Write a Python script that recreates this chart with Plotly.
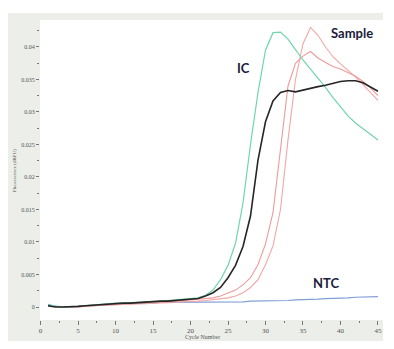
import plotly.graph_objects as go

cycles = list(range(1, 46))

ic_green = [0.0003, 0.0001, 0.0000, 0.0000, 0.0001, 0.0002, 0.0004, 0.0004, 0.0005, 0.0006,
            0.0006, 0.0007, 0.0007, 0.0008, 0.0008, 0.0009, 0.0009, 0.0010, 0.0011, 0.0012,
            0.0014, 0.0018, 0.0026, 0.0042, 0.0064, 0.0098, 0.0160, 0.0250, 0.0330, 0.0395,
            0.0422, 0.0423, 0.0412, 0.0396, 0.0380, 0.0366, 0.0352, 0.0338, 0.0322, 0.0308,
            0.0294, 0.0283, 0.0274, 0.0265, 0.0257]

sample_black = [0.0002, 0.0000, 0.0000, 0.0000, 0.0001, 0.0002, 0.0003, 0.0004, 0.0004, 0.0005,
                0.0006, 0.0006, 0.0007, 0.0007, 0.0008, 0.0009, 0.0009, 0.0010, 0.0011, 0.0012,
                0.0013, 0.0017, 0.0022, 0.0030, 0.0045, 0.0064, 0.0093, 0.0140, 0.0226, 0.0285,
                0.0317, 0.0330, 0.0333, 0.0331, 0.0334, 0.0337, 0.0339, 0.0341, 0.0344, 0.0347,
                0.0348, 0.0348, 0.0345, 0.0339, 0.0332]

sample_red1 = [0.0002, 0.0001, 0.0000, 0.0000, 0.0000, 0.0001, 0.0002, 0.0003, 0.0004, 0.0004,
               0.0005, 0.0005, 0.0006, 0.0006, 0.0007, 0.0007, 0.0008, 0.0008, 0.0009, 0.0010,
               0.0011, 0.0012, 0.0014, 0.0017, 0.0021, 0.0026, 0.0034, 0.0045, 0.0065, 0.0097,
               0.0145, 0.0240, 0.0340, 0.0375, 0.0386, 0.0393, 0.0383, 0.0376, 0.0370, 0.0366,
               0.0361, 0.0355, 0.0347, 0.0337, 0.0325]

sample_red2 = [0.0001, 0.0000, 0.0000, 0.0000, 0.0000, 0.0001, 0.0002, 0.0002, 0.0003, 0.0003,
               0.0004, 0.0004, 0.0005, 0.0005, 0.0006, 0.0006, 0.0007, 0.0007, 0.0008, 0.0008,
               0.0009, 0.0010, 0.0011, 0.0012, 0.0014, 0.0017, 0.0022, 0.0030, 0.0042, 0.0065,
               0.0094, 0.0150, 0.0257, 0.0350, 0.0405, 0.0430, 0.0418, 0.0400, 0.0385, 0.0374,
               0.0364, 0.0354, 0.0342, 0.0330, 0.0318]

ntc_blue = [0.0004, 0.0001, 0.0000, 0.0000, 0.0001, 0.0002, 0.0003, 0.0004, 0.0004, 0.0005,
            0.0005, 0.0005, 0.0006, 0.0006, 0.0006, 0.0007, 0.0007, 0.0007, 0.0007, 0.0008,
            0.0008, 0.0008, 0.0008, 0.0008, 0.0008, 0.0008, 0.0008, 0.0009, 0.0009, 0.0009,
            0.0010, 0.0010, 0.0010, 0.0011, 0.0011, 0.0012, 0.0012, 0.0013, 0.0013, 0.0014,
            0.0014, 0.0015, 0.0015, 0.0016, 0.0016]

y_tick_vals = [0, 0.005, 0.01, 0.015, 0.02, 0.025, 0.03, 0.035, 0.04]
y_tick_text = ["0", "0.005", "0.01", "0.015", "0.02", "0.025", "0.03", "0.035", "0.04"]
x_tick_vals = [0, 5, 10, 15, 20, 25, 30, 35, 40, 45]

fig = go.Figure()
fig.add_trace(go.Scatter(x=cycles, y=ntc_blue, mode="lines", line=dict(color="#7f9fd6", width=1.2), name="NTC"))
fig.add_trace(go.Scatter(x=cycles, y=sample_red2, mode="lines", line=dict(color="#f2a6a6", width=1.1), name="Sample 2"))
fig.add_trace(go.Scatter(x=cycles, y=sample_red1, mode="lines", line=dict(color="#ee9a9a", width=1.1), name="Sample 1"))
fig.add_trace(go.Scatter(x=cycles, y=ic_green, mode="lines", line=dict(color="#6fd6aa", width=1.2), name="IC"))
fig.add_trace(go.Scatter(x=cycles, y=sample_black, mode="lines", line=dict(color="#262626", width=1.6), name="Sample"))

label_font = dict(family="Lato", size=13, color="#1c1c3c")
fig.add_annotation(x=27.0, y=0.0368, text="<b>IC</b>", showarrow=False, font=label_font)
fig.add_annotation(x=41.5, y=0.0422, text="<b>Sample</b>", showarrow=False, font=label_font)
fig.add_annotation(x=38.1, y=0.0037, text="<b>NTC</b>", showarrow=False, font=label_font)

small_font = dict(family="Liberation Sans Narrow", size=6, color="#555555")
fig.add_annotation(xref="paper", yref="paper", x=0.475, y=-0.058, yanchor="middle",
                   text="Cycle Number", showarrow=False, font=small_font)
fig.add_annotation(xref="paper", yref="paper", x=-0.088, y=0.5, text="Fluorescence (dRFU)",
                   textangle=-90, showarrow=False,
                   font=dict(family="Liberation Sans Narrow", size=5, color="#555555"))

# white strips outside the grey instrument panel (paper background is the panel grey)
white = dict(color="#ffffff", width=0)
fig.add_shape(type="rect", xref="paper", yref="paper", x0=1.0, x1=1.1, y0=-0.2, y1=1.2,
              fillcolor="#ffffff", line=white, layer="above")
fig.add_shape(type="rect", xref="paper", yref="paper", x0=-0.2, x1=1.1, y0=1.0233, y1=1.2,
              fillcolor="#ffffff", line=white, layer="above")
fig.add_shape(type="rect", xref="paper", yref="paper", x0=-0.2, x1=1.1, y0=-0.2, y1=-0.07,
              fillcolor="#ffffff", line=white, layer="above")
fig.add_shape(type="rect", xref="paper", yref="paper", x0=-0.2, x1=-0.0933, y0=-0.2, y1=1.2,
              fillcolor="#ffffff", line=white, layer="above")

fig.update_layout(
    width=394, height=349,
    margin=dict(l=40, r=11, t=20, b=29),
    paper_bgcolor="#eceee9", plot_bgcolor="#ffffff",
    showlegend=False,
)
fig.update_xaxes(range=[-0.07, 45.67], tickvals=x_tick_vals, ticks="outside", ticklen=4,
                 tickcolor="#777777", showgrid=False, zeroline=False, showline=False,
                 tickfont=dict(family="Liberation Sans Narrow", size=7, color="#555555"),
                 minor=dict(tickvals=[2.5, 7.5, 12.5, 17.5, 22.5, 27.5, 32.5, 37.5, 42.5],
                            ticks="outside", ticklen=2, tickcolor="#777777"))
fig.update_yaxes(range=[-0.002, 0.04415], tickvals=y_tick_vals, ticktext=y_tick_text,
                 ticks="outside", ticklen=3, tickcolor="#777777", showgrid=False, zeroline=False,
                 showline=False,
                 tickfont=dict(family="Liberation Sans Narrow", size=6, color="#555555"),
                 minor=dict(tickvals=[0.0025, 0.0075, 0.0125, 0.0175, 0.0225, 0.0275, 0.0325, 0.0375, 0.0425],
                            ticks="outside", ticklen=2, tickcolor="#777777"))

fig.write_html("out.html")
